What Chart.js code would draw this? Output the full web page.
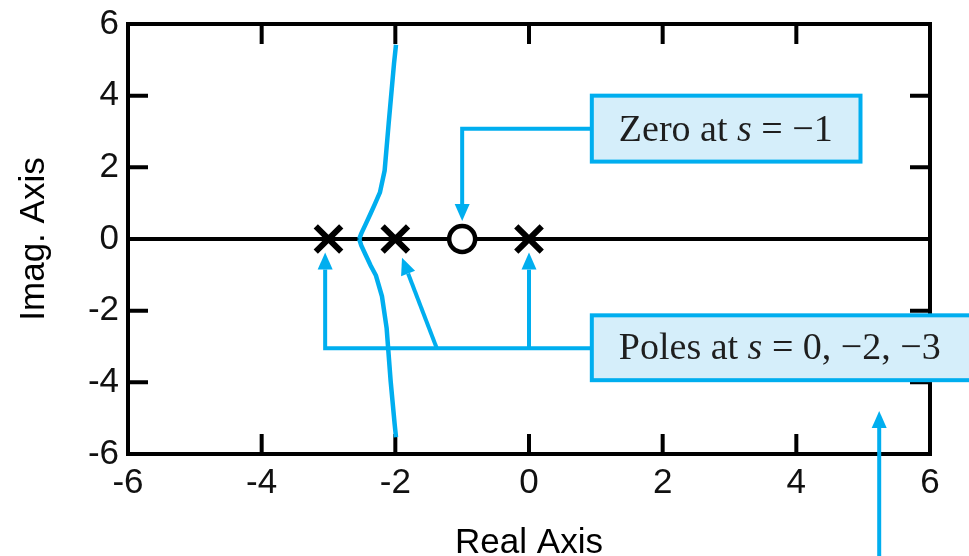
<!DOCTYPE html>
<html>
<head>
<meta charset="utf-8">
<script src="https://cdn.jsdelivr.net/npm/chart.js@4/dist/chart.umd.min.js"></script>
<style>
  html, body { margin: 0; padding: 0; background: #fff; overflow: hidden; }
  #lienzo { display: block; }
</style>
</head>
<body>
<canvas id="lienzo" width="1000" height="590"></canvas>
<script>
// ==========================================
// DATOS (lugar de raices)
// ==========================================
const ticksReal = [-6, -4, -2, 0, 2, 4, 6];
const ticksImag = [-6, -4, -2, 0, 2, 4, 6];

// Rama superior (desde el punto de ruptura hacia la asintota x = -2)
const ramaSupReal = [-2.54, -2.51, -2.44, -2.37, -2.31, -2.23, -2.16, -2.10, -2.02, -1.99];
const ramaSupImag = [0, 0.15, 0.43, 0.71, 0.96, 1.30, 1.91, 3.22, 4.89, 5.42];
// Rama inferior
const ramaInfReal = [-2.54, -2.51, -2.44, -2.37, -2.29, -2.20, -2.13, -2.07, -2.01, -1.99];
const ramaInfImag = [0, -0.18, -0.46, -0.74, -1.02, -1.60, -2.49, -3.97, -5.17, -5.53];

// Polos y cero
const polosReal = [-3, -2, 0];
const polosImag = [0, 0, 0];
const cerosReal = [-1];
const cerosImag = [0];

// Textos de las llamadas
const textoCero = [['Zero at ', 'normal'], ['s', 'italic'], [' = \u22121', 'normal']];
const textoPolos = [['Poles at ', 'normal'], ['s', 'italic'], [' = 0, \u22122, \u22123', 'normal']];

// Cajas y flechas de las llamadas (en unidades de los ejes)
const cajaCero = { x: [0.94, 4.96], y: [4.0, 2.16] };
const cajaPolos = { x: [0.94, 7.3], y: [-2.13, -3.94] };
const flechasCero = [[[0.94, 3.08], [-1, 3.08], [-1, 0.5]]];
const flechasPolos = [
    [[0.94, -3.05], [-3.05, -3.05], [-3.05, -0.38]],
    [[0, -3.05], [0, -0.38]],
    [[-1.38, -3.05], [-1.9, -0.52]],
    [[5.24, -9.5], [5.24, -4.8]]
];

const AZUL = '#00aeef';
const FONDO_CAJA = '#d5eefa';
const fuenteSans = "'Liberation Sans', Arial, sans-serif";
const fuenteSerif = "'Liberation Serif', 'Times New Roman', serif";

function puntos(xs, ys) {
    return xs.map((v, i) => ({ x: v, y: ys[i] }));
}

// ==========================================
// PLUGIN: marco, ticks interiores y llamadas
// ==========================================
function dibujarFlecha(ctx, pts) {
    const n = pts.length;
    const [xa, ya] = pts[n - 2];
    const [xb, yb] = pts[n - 1];
    const ang = Math.atan2(yb - ya, xb - xa);
    const L = 17, W = 7.5;
    const cx = Math.cos(ang), sy = Math.sin(ang);

    ctx.beginPath();
    ctx.moveTo(pts[0][0], pts[0][1]);
    for (let i = 1; i < n - 1; i++) ctx.lineTo(pts[i][0], pts[i][1]);
    ctx.lineTo(xb - L * cx, yb - L * sy);
    ctx.stroke();

    ctx.beginPath();
    ctx.moveTo(xb, yb);
    ctx.lineTo(xb - L * cx + W * sy, yb - L * sy - W * cx);
    ctx.lineTo(xb - L * cx - W * sy, yb - L * sy + W * cx);
    ctx.closePath();
    ctx.fill();
}

function dibujarCaja(ctx, sx, sy, caja, partes) {
    const x0 = sx.getPixelForValue(caja.x[0]);
    const x1 = sx.getPixelForValue(caja.x[1]);
    const y0 = sy.getPixelForValue(caja.y[0]);
    const y1 = sy.getPixelForValue(caja.y[1]);
    ctx.fillStyle = FONDO_CAJA;
    ctx.fillRect(x0, y0, x1 - x0, y1 - y0);
    ctx.strokeStyle = AZUL;
    ctx.lineWidth = 4;
    ctx.strokeRect(x0, y0, x1 - x0, y1 - y0);

    let tx = x0 + 27;
    const ty = y1 - 21;
    ctx.fillStyle = '#1e1e1e';
    ctx.textBaseline = 'alphabetic';
    ctx.textAlign = 'left';
    partes.forEach(([txt, estilo]) => {
        ctx.font = (estilo === 'italic' ? 'italic ' : '') + '38px ' + fuenteSerif;
        ctx.fillText(txt, tx, ty);
        tx += ctx.measureText(txt).width;
    });
}

const pluginLlamadas = {
    id: 'llamadas',
    beforeDatasetsDraw(chart) {
        const { ctx, chartArea: a, scales: { x, y } } = chart;
        ctx.save();
        ctx.strokeStyle = '#000';
        ctx.lineWidth = 4;
        ctx.strokeRect(a.left, a.top, a.right - a.left, a.bottom - a.top);
        ctx.beginPath();
        ticksReal.slice(1, -1).forEach(v => {
            const px = x.getPixelForValue(v);
            ctx.moveTo(px, a.top); ctx.lineTo(px, a.top + 20);
            ctx.moveTo(px, a.bottom); ctx.lineTo(px, a.bottom - 20);
        });
        ticksImag.slice(1, -1).forEach(v => {
            const py = y.getPixelForValue(v);
            ctx.moveTo(a.left, py); ctx.lineTo(a.left + 20, py);
            ctx.moveTo(a.right, py); ctx.lineTo(a.right - 20, py);
        });
        ctx.stroke();
        ctx.restore();
    },
    afterDatasetsDraw(chart) {
        const { ctx, scales: { x, y } } = chart;
        ctx.save();
        ctx.strokeStyle = AZUL;
        ctx.fillStyle = AZUL;
        ctx.lineWidth = 4;
        ctx.lineJoin = 'miter';
        [...flechasCero, ...flechasPolos].forEach(f => {
            dibujarFlecha(ctx, f.map(([vx, vy]) => [x.getPixelForValue(vx), y.getPixelForValue(vy)]));
        });
        dibujarCaja(ctx, x, y, cajaCero, textoCero);
        dibujarCaja(ctx, x, y, cajaPolos, textoPolos);
        ctx.restore();
    }
};

// ==========================================
// GRAFICO
// ==========================================
const ctx = document.getElementById('lienzo').getContext('2d');
new Chart(ctx, {
    type: 'scatter',
    data: {
        datasets: [
            {
                data: puntos(ramaSupReal, ramaSupImag),
                showLine: true, borderColor: AZUL, borderWidth: 4.5,
                pointRadius: 0, tension: 0
            },
            {
                data: puntos(ramaInfReal, ramaInfImag),
                showLine: true, borderColor: AZUL, borderWidth: 4.5,
                pointRadius: 0, tension: 0
            },
            {
                data: puntos(polosReal, polosImag),
                pointStyle: 'crossRot', pointRadius: 18,
                borderColor: '#000', borderWidth: 6
            },
            {
                data: puntos(cerosReal, cerosImag),
                pointStyle: 'circle', pointRadius: 13,
                borderColor: '#000', backgroundColor: '#fff', borderWidth: 4.5
            }
        ]
    },
    options: {
        responsive: false,
        animation: false,
        devicePixelRatio: 1,
        layout: { padding: { top: 23, right: 70, bottom: 16, left: 0 } },
        plugins: { legend: { display: false }, tooltip: { enabled: false } },
        scales: {
            x: {
                type: 'linear', min: -6, max: 6,
                afterBuildTicks: s => { s.ticks = ticksReal.map(v => ({ value: v })); },
                afterFit: s => { s.height = 120; },
                ticks: { font: { family: fuenteSans, size: 35 }, color: '#111', padding: 8 },
                grid: { display: false, drawTicks: false },
                border: { display: false },
                title: {
                    display: true, text: 'Real Axis', color: '#000',
                    font: { family: fuenteSans, size: 35 }, padding: { top: 0, bottom: 10 }
                }
            },
            y: {
                type: 'linear', min: -6, max: 6,
                afterBuildTicks: s => { s.ticks = ticksImag.map(v => ({ value: v })); },
                afterFit: s => { s.width = 128; s.paddingTop = 0; s.paddingBottom = 0; },
                ticks: { font: { family: fuenteSans, size: 35 }, color: '#111', padding: 9 },
                grid: {
                    drawTicks: false, lineWidth: 4,
                    color: c => (c.tick && c.tick.value === 0 ? '#000' : 'rgba(0,0,0,0)')
                },
                border: { display: false },
                title: {
                    display: true, text: 'Imag. Axis', color: '#000',
                    font: { family: fuenteSans, size: 35 }, padding: { top: 13, bottom: 0 }
                }
            }
        }
    },
    plugins: [pluginLlamadas]
});
</script>
</body>
</html>
